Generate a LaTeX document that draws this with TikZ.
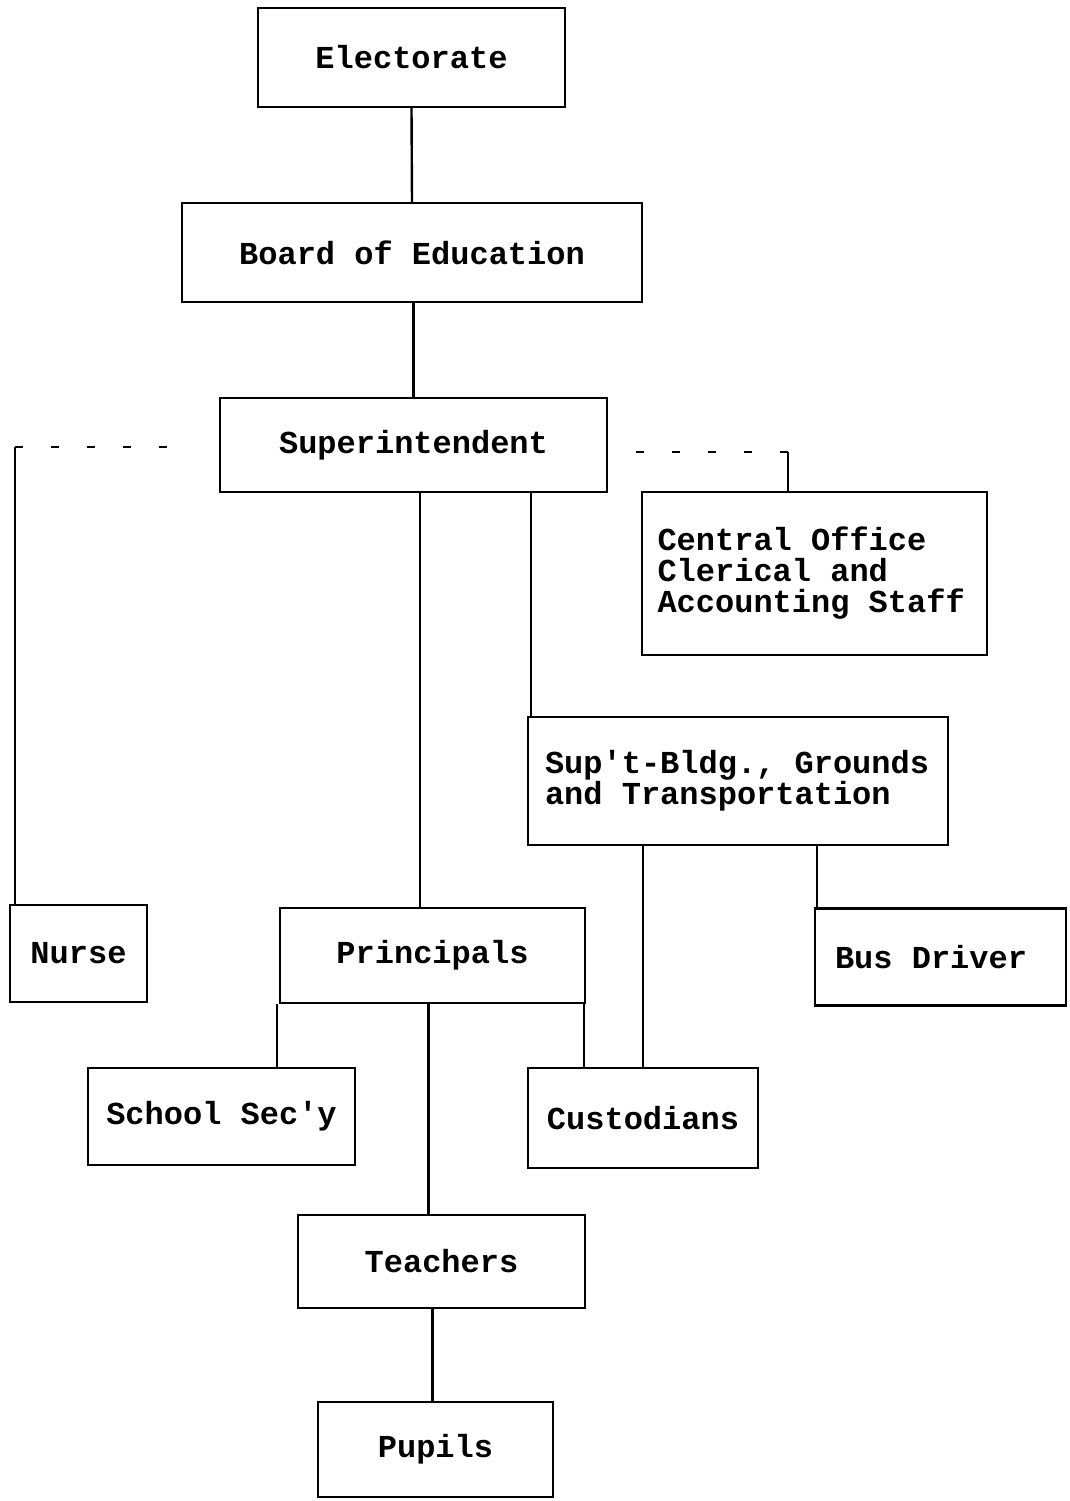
\documentclass[tikz,border=0pt]{standalone}
\usepackage{fontspec}
\setmainfont{Liberation Mono}[Ligatures=TeXOff, WordSpace={1,0,0}]
\usetikzlibrary{positioning}

\tikzset{
  unit/.style={draw, line width=1.2pt, font=\fontsize{16}{15.5}\selectfont\bfseries, inner sep=0pt, align=center},
  staff/.style={unit, align=flush left},
  link/.style={line width=1.2pt},
  advise/.style={line width=1.3pt, dash pattern=on 4pt off 14pt},
}

\begin{document}
\begin{tikzpicture}[x=0.5pt,y=-0.5pt]
\useasboundingbox (0,0) rectangle (1070,1501);
% line of authority
\node[unit, minimum width=153.5pt, minimum height=49.5pt] (elect) at (411.5,57.5) {Electorate};
\node[unit, minimum width=230pt, minimum height=49.5pt] (board) at (412,252.5) {Board of Education};
\node[unit, minimum width=193.5pt, minimum height=47pt] (super) at (413.5,445) {Superintendent};
\node[staff, text width=157pt, inner xsep=7.75pt, minimum height=81.5pt] (office) at (814.5,573.5) {Central Office\\Clerical and\\Accounting Staff};
\node[staff, text width=193pt, inner xsep=8.5pt, minimum height=64pt] (bldg) at (738,781) {Sup't-Bldg., Grounds\\and Transportation};
\node[unit, minimum width=68.5pt, minimum height=48.5pt] (nurse) at (78.5,953.5) {Nurse};
\node[unit, minimum width=152.5pt, minimum height=47.5pt] (prin) at (432.5,955.5) {Principals};
\node[staff, text width=105.5pt, inner xsep=10pt, minimum height=48.5pt] (bus) at (940.5,957) {Bus Driver};
\node[unit, minimum width=133.5pt, minimum height=48.5pt] (secy) at (221.5,1116.5) {School Sec'y};
\node[unit, minimum width=115pt, minimum height=50pt] (cust) at (643,1118) {Custodians};
\node[unit, minimum width=143.5pt, minimum height=46.5pt] (teach) at (441.5,1261.5) {Teachers};
\node[unit, minimum width=117.5pt, minimum height=47.5pt] (pupil) at (435.5,1449.5) {Pupils};

\coordinate (lc) at (15,447);
\coordinate (rc) at (788,452);

\draw[link] (elect.south) -- (board.north);
\draw[link] (board.south) -- (super.south |- board.south) -- (super.north);
\draw[link] ([xshift=-6.25pt]prin.north) -- ([xshift=-6.25pt]prin.north |- super.south);
\draw[link] ([xshift=2pt]bldg.north west) -- ([xshift=2pt]bldg.north west |- super.south);
\draw[link] (cust.north) -- (cust.north |- bldg.south);
\draw[link] ([xshift=1.5pt]bus.north west) -- ([xshift=1.5pt]bus.north west |- bldg.south);
\draw[link] ([xshift=-1pt]prin.south west) -- ([xshift=-1pt]prin.south west |- secy.north);
\draw[link] ([xshift=-1pt]prin.south east) -- ([xshift=-1pt]prin.south east |- cust.north);
\draw[link] ([xshift=-6.5pt]teach.north) -- ([xshift=-6.5pt]teach.north |- prin.south);
\draw[link] ([xshift=-1.5pt]pupil.north) -- ([xshift=-1.5pt]pupil.north |- teach.south);

% staff relations
\draw[advise, shorten >=18pt] (lc) -- (lc -| super.west);
\draw[link] (lc) -- (lc |- nurse.north);
\draw[advise, shorten >=8pt] (rc) -- (rc -| super.east);
\draw[link] (rc) -- (rc |- office.north);
\end{tikzpicture}
\end{document}
